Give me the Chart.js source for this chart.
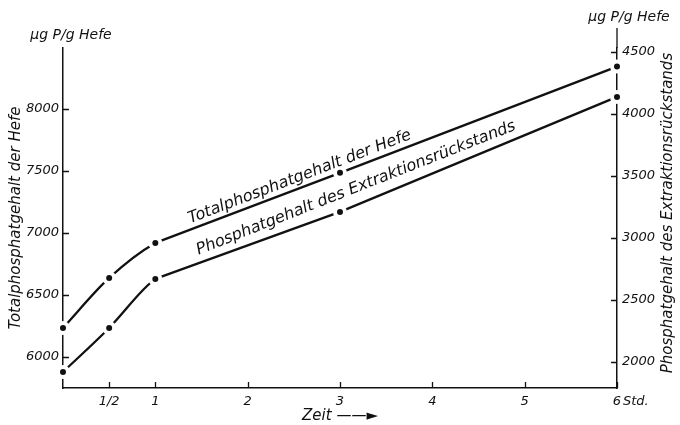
<!DOCTYPE html>
<html>
<head>
<meta charset="utf-8">
<script src="https://cdn.jsdelivr.net/npm/chart.js@4.4.0/dist/chart.umd.min.js"></script>
<style>
  html, body { margin: 0; padding: 0; background: #fff; }
</style>
</head>
<body>
<canvas id="chart" width="680" height="425"></canvas>
<script>
// Zeit in Stunden
const zeit = [0, 0.5, 1, 3, 6];
// µg P/g Hefe, linke Achse
const totalHefe = [6234, 6637, 6919, 7484, 8340];
// µg P/g Hefe, rechte Achse
const rueckstand = [1919, 2274, 2669, 3209, 4136];

const xTicks = [0.5, 1, 2, 3, 4, 5, 6];
const xTickLabels = ["1/2", "1", "2", "3", "4", "5", "6"];
const leftTicks = [6000, 6500, 7000, 7500, 8000];
const rightTicks = [2000, 2500, 3000, 3500, 4000, 4500];

const FAMILY = "'DejaVu Sans', sans-serif";
const INK = "#111";
const KNICK = 1; // ab hier gerade Strecken

function points(xs, ys) {
    return xs.map((t, i) => ({ x: t, y: ys[i] }));
}

// linear zwischen den Messpunkten
function valueAt(t, ys) {
    for (let i = 0; i < zeit.length - 1; i++) {
        if (t >= zeit[i] && t <= zeit[i + 1]) {
            const f = (t - zeit[i]) / (zeit[i + 1] - zeit[i]);
            return ys[i] + f * (ys[i + 1] - ys[i]);
        }
    }
    return ys[ys.length - 1];
}

function lineLabel(ctx, text, xScale, yScale, ys, t, offset) {
    const px = xScale.getPixelForValue(t);
    const py = yScale.getPixelForValue(valueAt(t, ys));
    const ax = xScale.getPixelForValue(1), ay = yScale.getPixelForValue(ys[2]);
    const bx = xScale.getPixelForValue(6), by = yScale.getPixelForValue(ys[4]);
    const ang = Math.atan2(by - ay, bx - ax);
    ctx.save();
    ctx.translate(px, py);
    ctx.rotate(ang);
    ctx.font = "italic 16px " + FAMILY;
    ctx.fillStyle = INK;
    ctx.textAlign = "left";
    ctx.textBaseline = "alphabetic";
    ctx.fillText(text, 0, -offset);
    ctx.restore();
}

const annotations = {
    id: "annotations",
    afterDatasetsDraw(chart) {
        const ctx = chart.ctx;
        const a = chart.chartArea;
        const x = chart.scales.x, y = chart.scales.y, y2 = chart.scales.y2;
        ctx.save();
        ctx.strokeStyle = INK;
        ctx.lineWidth = 1.3;
        ctx.beginPath();
        // kleine Striche nach innen
        leftTicks.forEach(v => {
            const py = Math.round(y.getPixelForValue(v)) + 0.5;
            ctx.moveTo(a.left, py); ctx.lineTo(a.left + 6, py);
        });
        rightTicks.forEach(v => {
            const py = Math.round(y2.getPixelForValue(v)) + 0.5;
            ctx.moveTo(a.right, py); ctx.lineTo(a.right - 6, py);
        });
        xTicks.forEach(v => {
            const px = Math.round(x.getPixelForValue(v)) + 0.5;
            ctx.moveTo(px, a.bottom); ctx.lineTo(px, a.bottom - 6);
        });
        // rechte Achse etwas länger
        ctx.moveTo(a.right, a.top); ctx.lineTo(a.right, a.top - 20);
        ctx.stroke();

        ctx.fillStyle = INK;
        ctx.font = "italic 14px " + FAMILY;
        ctx.textAlign = "center";
        ctx.textBaseline = "middle";
        ctx.fillText("\u00b5g P/g Hefe", a.left + 8, a.top - 13);
        ctx.fillText("\u00b5g P/g Hefe", a.right + 12, a.top - 31);

        ctx.font = "italic 13px " + FAMILY;
        ctx.textAlign = "left";
        ctx.fillText("Std.", x.getPixelForValue(6) + 6, a.bottom + 14);

        // rechte Achsenbeschriftung, von unten nach oben
        ctx.save();
        ctx.translate(a.right + 51, (a.top + a.bottom) / 2 - 5);
        ctx.rotate(-Math.PI / 2);
        ctx.font = "italic 15px " + FAMILY;
        ctx.textAlign = "center";
        ctx.fillText("Phosphatgehalt des Extraktionsr\u00fcckstands", 0, 0);
        ctx.restore();
        ctx.restore();

        lineLabel(ctx, "Totalphosphatgehalt der Hefe", x, y, totalHefe, 1.4, 6);
        lineLabel(ctx, "Phosphatgehalt des Extraktionsr\u00fcckstands", x, y2, rueckstand, 1.5, 8);
    }
};

// gekrümmter Anfang (bis KNICK), Rest unsichtbar; Punkte mit weißem Ring
function curveStyle(data, axis, label) {
    return {
        label: label,
        data: data,
        yAxisID: axis,
        borderColor: INK,
        borderWidth: 2.3,
        cubicInterpolationMode: "monotone",
        segment: {
            borderColor: c => c.p0.parsed.x >= KNICK ? "rgba(0,0,0,0)" : undefined
        },
        pointRadius: 5,
        pointBorderWidth: 4,
        pointBackgroundColor: INK,
        pointBorderColor: "#fff",
        fill: false,
        clip: false,
        order: 1
    };
}

// gerade Strecken ab KNICK, unter den Punkten gezeichnet
function straightStyle(data, axis, label) {
    return {
        label: label,
        data: data.filter(p => p.x >= KNICK),
        yAxisID: axis,
        borderColor: INK,
        borderWidth: 2.3,
        tension: 0,
        pointRadius: 0,
        fill: false,
        clip: false,
        order: 2
    };
}

const hefePts = points(zeit, totalHefe);
const restPts = points(zeit, rueckstand);

new Chart(document.getElementById("chart"), {
    type: "line",
    data: {
        datasets: [
            straightStyle(hefePts, "y", "Totalphosphatgehalt der Hefe"),
            straightStyle(restPts, "y2", "Phosphatgehalt des Extraktionsrückstands"),
            curveStyle(hefePts, "y", "Totalphosphatgehalt der Hefe"),
            curveStyle(restPts, "y2", "Phosphatgehalt des Extraktionsrückstands")
        ]
    },
    options: {
        responsive: false,
        animation: false,
        devicePixelRatio: 1,
        layout: { padding: { top: 48, left: 0, right: 0, bottom: 0 } },
        plugins: {
            legend: { display: false },
            tooltip: { enabled: false }
        },
        scales: {
            x: {
                type: "linear",
                min: 0,
                max: 6,
                afterBuildTicks: s => { s.ticks = xTicks.map(v => ({ value: v })); },
                afterFit: s => { s.height = 37; },
                grid: { display: false, drawTicks: false },
                border: { display: true, color: INK, width: 1.5 },
                ticks: {
                    color: INK,
                    padding: 6,
                    maxRotation: 0,
                    font: { family: FAMILY, size: 13, style: "italic" },
                    callback: v => xTickLabels[xTicks.indexOf(v)]
                },
                title: {
                    display: true,
                    text: "Zeit \u2014\u2014\u25ba",
                    color: INK,
                    padding: { top: 0, bottom: 0 },
                    font: { family: FAMILY, size: 15, style: "italic" }
                }
            },
            y: {
                position: "left",
                min: 5750,
                max: 8490,
                afterBuildTicks: s => { s.ticks = leftTicks.map(v => ({ value: v })); },
                afterFit: s => { s.width = 63; },
                grid: { display: false, drawTicks: false },
                border: { display: true, color: INK, width: 1.5 },
                ticks: {
                    color: INK,
                    padding: 4,
                    font: { family: FAMILY, size: 13, style: "italic" },
                    callback: v => String(v)
                },
                title: {
                    display: true,
                    text: "Totalphosphatgehalt der Hefe",
                    color: INK,
                    padding: { top: 7, bottom: 0 },
                    font: { family: FAMILY, size: 15, style: "italic" }
                }
            },
            y2: {
                position: "right",
                min: 1790,
                max: 4530,
                afterBuildTicks: s => { s.ticks = rightTicks.map(v => ({ value: v })); },
                afterFit: s => { s.width = 63; },
                grid: { display: false, drawTicks: false },
                border: { display: true, color: INK, width: 1.5 },
                ticks: {
                    color: INK,
                    padding: 5,
                    font: { family: FAMILY, size: 13, style: "italic" },
                    callback: v => String(v)
                }
            }
        }
    },
    plugins: [annotations]
});
</script>
</body>
</html>
